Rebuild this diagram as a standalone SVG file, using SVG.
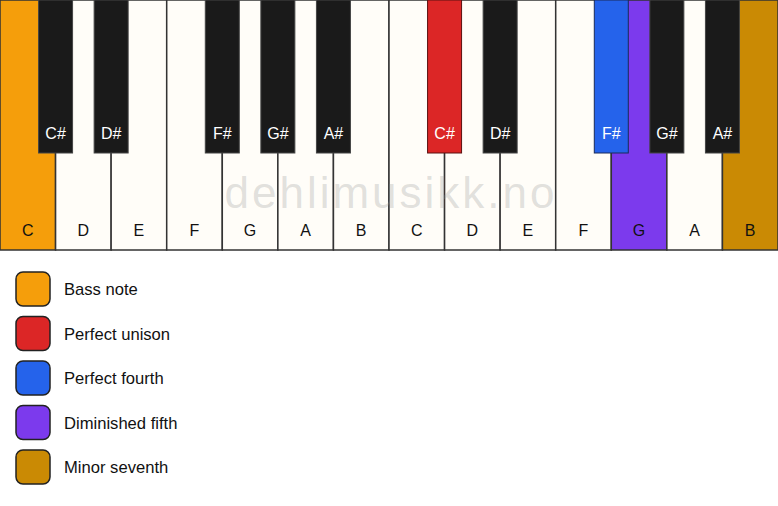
<svg xmlns="http://www.w3.org/2000/svg" width="778" height="506" viewBox="0 0 778 506">
<style>
.wk{fill:#fffdf8;stroke:#333;stroke-width:1.5}
.bk{fill:#1a1a1a;stroke:#444;stroke-width:1}
.wl{font-family:"Liberation Sans",Arial,sans-serif;font-size:16px;fill:#111;text-anchor:middle}
.bl{font-family:"Liberation Sans",Arial,sans-serif;font-size:16px;fill:#fff;text-anchor:middle}
.lg{stroke:#222;stroke-width:1.5}
.lt{font-family:"Liberation Sans",Arial,sans-serif;font-size:16.6px;fill:#111}
.wm{font-family:"Liberation Sans",Arial,sans-serif;font-size:44px;fill:#9a9a9a;fill-opacity:0.3;text-anchor:middle;letter-spacing:3px}
</style>
<rect x="0" y="0" width="778" height="506" fill="#ffffff"/>
<g id="white-keys">
<g id="w-C1"><rect class="wk" x="0" y="0" width="55.57" height="250" style="fill:#F59E0B"/><text class="wl" x="27.8" y="236">C</text></g>
<g id="w-D1"><rect class="wk" x="55.57" y="0" width="55.57" height="250"/><text class="wl" x="83.4" y="236">D</text></g>
<g id="w-E1"><rect class="wk" x="111.14" y="0" width="55.57" height="250"/><text class="wl" x="138.9" y="236">E</text></g>
<g id="w-F1"><rect class="wk" x="166.71" y="0" width="55.57" height="250"/><text class="wl" x="194.5" y="236">F</text></g>
<g id="w-G1"><rect class="wk" x="222.29" y="0" width="55.57" height="250"/><text class="wl" x="250.1" y="236">G</text></g>
<g id="w-A1"><rect class="wk" x="277.86" y="0" width="55.57" height="250"/><text class="wl" x="305.6" y="236">A</text></g>
<g id="w-B1"><rect class="wk" x="333.43" y="0" width="55.57" height="250"/><text class="wl" x="361.2" y="236">B</text></g>
<g id="w-C2"><rect class="wk" x="389" y="0" width="55.57" height="250"/><text class="wl" x="416.8" y="236">C</text></g>
<g id="w-D2"><rect class="wk" x="444.57" y="0" width="55.57" height="250"/><text class="wl" x="472.4" y="236">D</text></g>
<g id="w-E2"><rect class="wk" x="500.14" y="0" width="55.57" height="250"/><text class="wl" x="527.9" y="236">E</text></g>
<g id="w-F2"><rect class="wk" x="555.71" y="0" width="55.57" height="250"/><text class="wl" x="583.5" y="236">F</text></g>
<g id="w-G2"><rect class="wk" x="611.29" y="0" width="55.57" height="250" style="fill:#7C3AED"/><text class="wl" x="639.1" y="236">G</text></g>
<g id="w-A2"><rect class="wk" x="666.86" y="0" width="55.57" height="250"/><text class="wl" x="694.6" y="236">A</text></g>
<g id="w-B2"><rect class="wk" x="722.43" y="0" width="55.57" height="250" style="fill:#CA8A04"/><text class="wl" x="750.2" y="236">B</text></g>
</g>
<text class="wm" x="391" y="208">dehlimusikk.no</text>
<g id="black-keys">
<g id="b-Cs1"><rect class="bk" x="38.57" y="0" width="34" height="153"/><text class="bl" x="55.57" y="139">C#</text></g>
<g id="b-Ds1"><rect class="bk" x="94.14" y="0" width="34" height="153"/><text class="bl" x="111.14" y="139">D#</text></g>
<g id="b-Fs1"><rect class="bk" x="205.29" y="0" width="34" height="153"/><text class="bl" x="222.29" y="139">F#</text></g>
<g id="b-Gs1"><rect class="bk" x="260.86" y="0" width="34" height="153"/><text class="bl" x="277.86" y="139">G#</text></g>
<g id="b-As1"><rect class="bk" x="316.43" y="0" width="34" height="153"/><text class="bl" x="333.43" y="139">A#</text></g>
<g id="b-Cs2"><rect class="bk" x="427.57" y="0" width="34" height="153" style="fill:#DC2626;stroke:#5a1010"/><text class="bl" x="444.57" y="139">C#</text></g>
<g id="b-Ds2"><rect class="bk" x="483.14" y="0" width="34" height="153"/><text class="bl" x="500.14" y="139">D#</text></g>
<g id="b-Fs2"><rect class="bk" x="594.29" y="0" width="34" height="153" style="fill:#2563EB;stroke:#1a2a5a"/><text class="bl" x="611.29" y="139">F#</text></g>
<g id="b-Gs2"><rect class="bk" x="649.86" y="0" width="34" height="153"/><text class="bl" x="666.86" y="139">G#</text></g>
<g id="b-As2"><rect class="bk" x="705.43" y="0" width="34" height="153"/><text class="bl" x="722.43" y="139">A#</text></g>
</g>
<g id="legend">
<g id="lg-bass"><rect class="lg" x="16" y="272" width="34" height="34" rx="7" fill="#F59E0B"/><text class="lt" x="64" y="295">Bass note</text></g>
<g id="lg-unison"><rect class="lg" x="16" y="316.5" width="34" height="34" rx="7" fill="#DC2626"/><text class="lt" x="64" y="339.5">Perfect unison</text></g>
<g id="lg-fourth"><rect class="lg" x="16" y="361" width="34" height="34" rx="7" fill="#2563EB"/><text class="lt" x="64" y="384">Perfect fourth</text></g>
<g id="lg-dim5"><rect class="lg" x="16" y="405.5" width="34" height="34" rx="7" fill="#7C3AED"/><text class="lt" x="64" y="428.5">Diminished fifth</text></g>
<g id="lg-min7"><rect class="lg" x="16" y="450" width="34" height="34" rx="7" fill="#CA8A04"/><text class="lt" x="64" y="473">Minor seventh</text></g>
</g>
</svg>
